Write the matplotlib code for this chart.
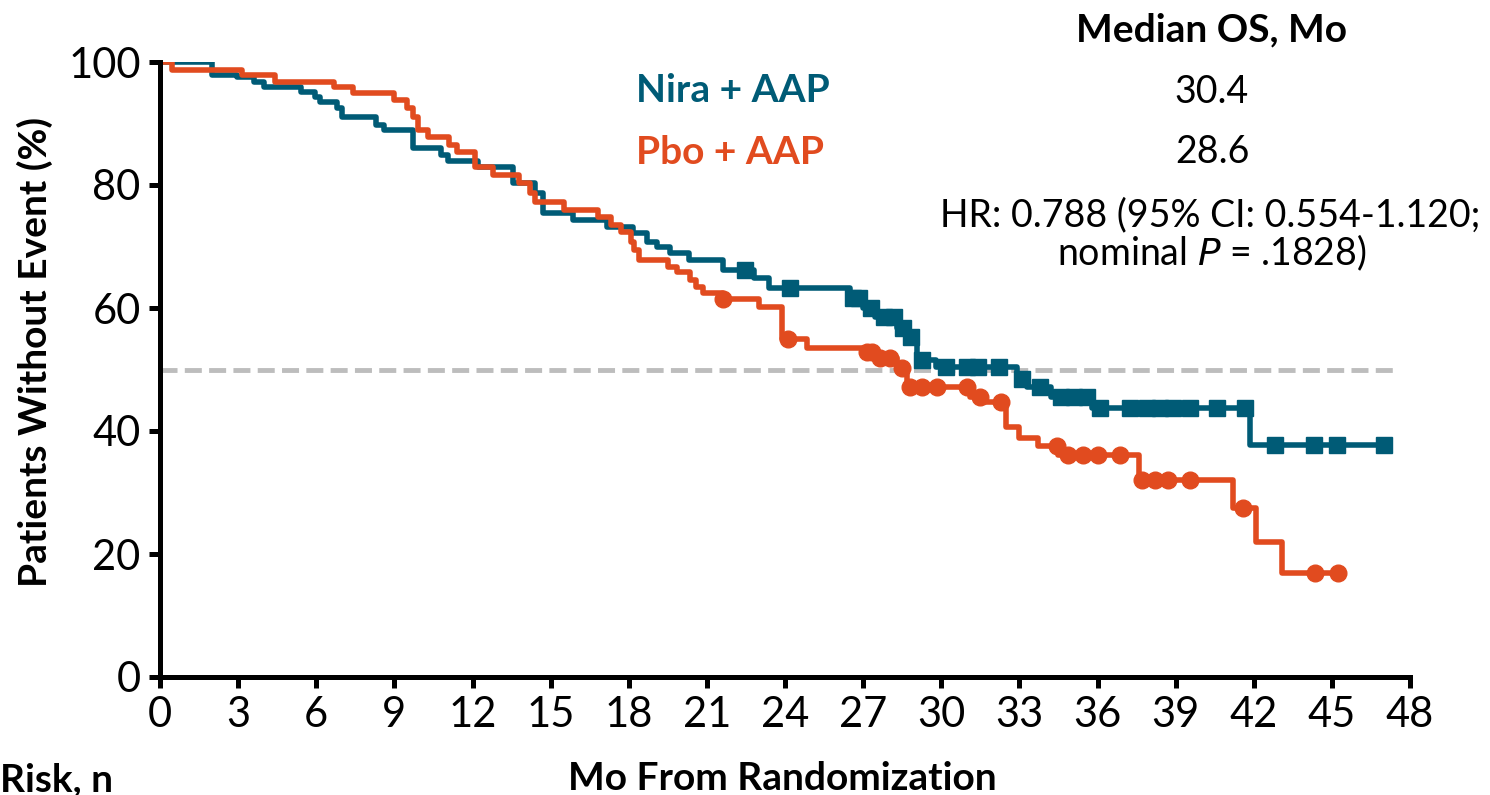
import matplotlib
matplotlib.use('Agg')
import matplotlib.pyplot as plt
import numpy as np

plt.rcParams['font.family'] = ['Lato', 'DejaVu Sans']

# step data (months, % without event)
nira_t = [0, 2.0, 2.96, 3.6, 4.0, 5.4, 5.95, 6.15, 6.8, 7.0, 8.3, 8.6, 9.7, 10.8, 11.05,
          12.2, 13.55, 14.4, 14.7, 15.86, 17.17, 18.16, 18.7, 19.1, 19.6, 20.3, 21.6, 22.8,
          23.4, 26.5, 27.0, 27.45, 28.3, 28.65, 29.07, 29.8, 32.9, 33.3, 34.2, 35.8, 41.86, 47.0]
nira_s = [100, 97.9, 97.5, 96.7, 95.9, 95.1, 94.3, 93.5, 92.5, 91.1, 89.8, 88.9, 86.0, 84.9, 83.9,
          82.9, 80.3, 78.7, 75.4, 74.3, 73.2, 72.2, 70.7, 69.9, 68.9, 67.8, 66.2, 64.9,
          63.3, 61.6, 60.0, 58.5, 56.8, 55.3, 51.5, 50.4, 48.5, 47.2, 45.5, 43.7, 37.7, 37.7]
nira_cens = [22.45, 24.2, 26.6, 26.85, 27.3, 27.8, 28.2, 28.55, 28.85, 29.25, 30.2, 31.0, 31.4,
             32.2, 33.1, 33.8, 34.6, 35.1, 35.6, 36.1, 37.25, 37.9, 38.4, 38.9, 39.55, 40.6,
             41.67, 42.8, 44.3, 45.2, 47.0]

pbo_t = [0, 0.46, 3.15, 4.4, 6.7, 7.4, 9.0, 9.5, 9.7, 9.9, 10.3, 11.1, 11.4, 12.1, 12.8, 13.8,
         14.2, 14.4, 15.5, 16.8, 17.3, 17.7, 18.1, 18.2, 18.4, 19.5, 19.85, 20.35, 20.6, 20.85,
         21.6, 23.0, 23.9, 24.85, 27.1, 27.5, 28.3, 28.7, 31.1, 31.6, 32.5, 33.0, 33.7, 34.5,
         37.6, 41.2, 42.1, 43.1, 45.25]
pbo_s = [100, 98.7, 97.9, 96.7, 95.9, 95.0, 93.8, 92.5, 91.1, 88.9, 87.8, 86.5, 85.4, 82.9, 81.6, 80.3,
         78.7, 77.2, 75.9, 74.8, 73.5, 72.4, 70.7, 69.4, 67.8, 66.7, 65.9, 64.6, 63.4, 62.4,
         61.5, 60.2, 55.0, 53.5, 52.8, 51.9, 50.2, 47.2, 45.5, 44.7, 40.7, 38.9, 37.5, 36.1,
         32.0, 27.5, 22.0, 16.9, 16.9]
pbo_cens = [21.6, 24.1, 27.15, 27.35, 27.65, 28.05, 28.5, 28.8, 29.25, 29.85, 31.0, 31.5, 32.3,
            34.45, 34.85, 35.45, 36.0, 36.85, 37.7, 38.2, 38.7, 39.55, 41.6, 44.35, 45.25]

teal = '#005B76'
orange = '#E14B1F'

W, H = 1490, 795
fig = plt.figure(figsize=(W / 100, H / 100), dpi=100)
ax = fig.add_axes([160 / W, 1 - 677 / H, 1250 / W, 615 / H])


def at(tt, ss, x):
    # value of the step curve at time x
    idx = np.searchsorted(tt, x, side='right') - 1
    return np.array(ss)[idx]


ax.hlines(50, 0, 47.4, color='#BDBDBD', lw=3.5, linestyle=(0, (3.5, 1.5)), zorder=1)

ax.step(pbo_t, pbo_s, where='post', color=orange, lw=4, zorder=3)
ax.plot(pbo_cens, at(pbo_t, pbo_s, pbo_cens), 'o', color=orange, ms=12, zorder=3)
ax.step(nira_t, nira_s, where='post', color=teal, lw=4, zorder=2)
ax.plot(nira_cens, at(nira_t, nira_s, nira_cens), 's', color=teal, ms=11, zorder=2)

ax.set_xlim(0, 48)
ax.set_ylim(0, 100)
ax.set_xticks(np.arange(0, 49, 3))
ax.set_yticks(np.arange(0, 101, 20))
for s in ['top', 'right']:
    ax.spines[s].set_visible(False)
for s in ['left', 'bottom']:
    ax.spines[s].set_linewidth(3.6)
ax.tick_params(width=3.6, length=8, labelsize=30, pad=6)
ax.spines['left'].set_zorder(5)

def ft(x, y, s, **kw):
    fig.text(x / W, 1 - y / H, s, **kw)

ft(35, 352, 'Patients Without Event (%)', rotation=90, ha='center', va='center',
   fontsize=28, fontweight='bold')
ft(782, 778, 'Mo From Randomization', ha='center', va='center', fontsize=28, fontweight='bold')
ft(0, 780, 'Risk, n', ha='left', va='center', fontsize=28, fontweight='bold')

ft(1212, 30, 'Median OS, Mo', ha='center', va='center', fontsize=28, fontweight='bold')
ft(636, 90, 'Nira + AAP', ha='left', va='center', fontsize=28, fontweight='bold', color=teal)
ft(636, 152, 'Pbo + AAP', ha='left', va='center', fontsize=28, fontweight='bold', color=orange)
ft(1212, 92, '30.4', ha='center', va='center', fontsize=27)
ft(1212, 152, '28.6', ha='center', va='center', fontsize=27)
ft(1210, 215, 'HR: 0.788 (95% CI: 0.554-1.120;', ha='center', va='center', fontsize=27)
ft(1212, 253, 'nominal $\\it{P}$ = .1828)', ha='center', va='center', fontsize=27)

fig.savefig('out.png', dpi=100)
